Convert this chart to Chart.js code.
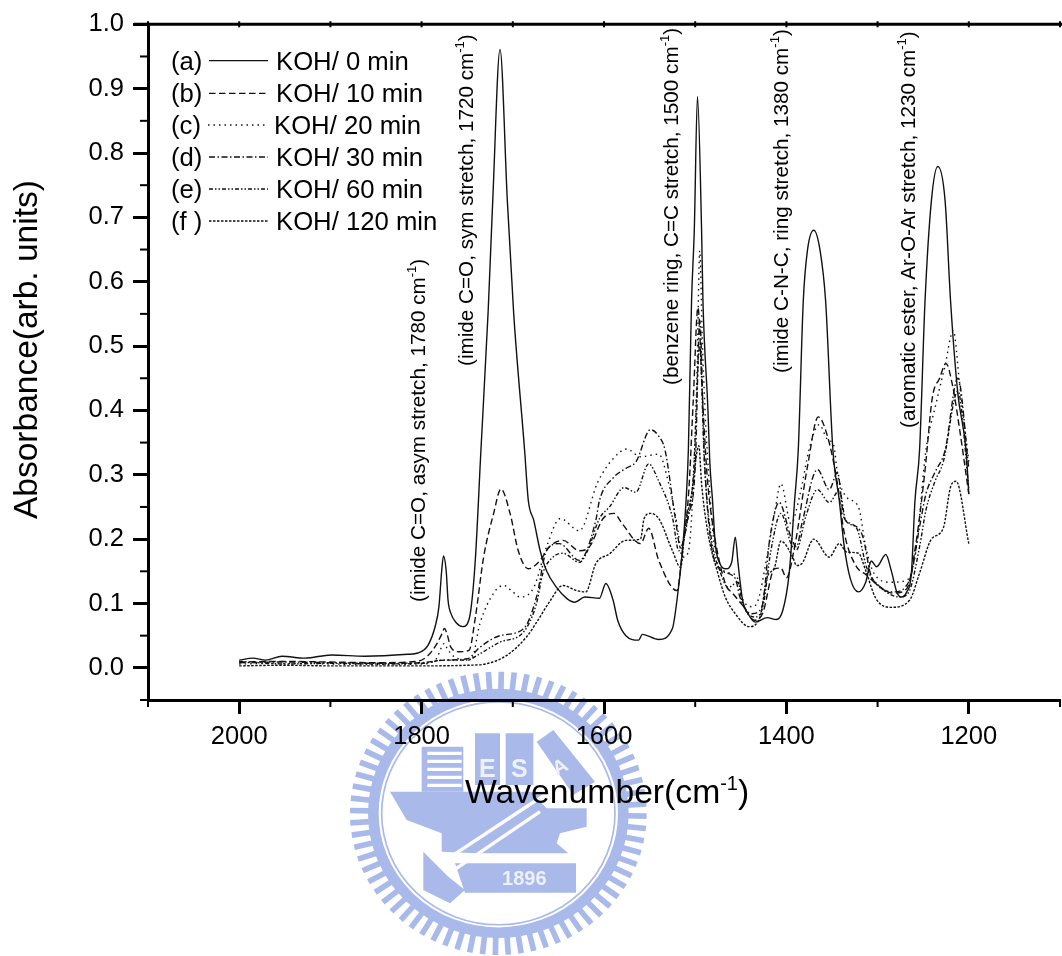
<!DOCTYPE html>
<html>
<head>
    <title>KOH treatment FTIR spectra</title>
    <script src="https://cdn.jsdelivr.net/npm/chart.js"></script>
    <style>
        html, body {
            margin: 0;
            padding: 0;
            background-color: #ffffff;
            overflow: hidden;
        }
        #wrap {
            width: 1062px;
            height: 956px;
            overflow: hidden;
        }
        canvas {
            display: block;
        }
    </style>
</head>
<body>
    <div id="wrap"><canvas id="spectra" width="1068" height="956"></canvas></div>

    <script>
        const wnA = [2000,1985,1971,1953,1928,1899,1862,1815,1804,1793,1785,1781,1778,1776,1773,1771,1768,1762,1755,1750,1746,1741,1735,1727,1722,1714,1706,1699,1687,1683,1677,1670,1663,1652,1641,1632,1621,1605,1598,1590,1585,1576,1562,1558,1540,1525,1520,1514,1510,1507.5,1504,1501,1497.5,1493,1491.5,1486,1484,1481,1478,1473,1466,1460,1456,1453,1448,1442,1434,1421,1411,1404,1397,1391,1387,1381.5,1377,1370,1363,1357,1349,1342,1337,1330,1321,1313,1307,1301,1291,1285,1279,1274,1268,1263,1259,1254,1248,1241,1234,1226,1220,1212,1203,1200];
        const valA = [0.012,0.015,0.012,0.018,0.015,0.020,0.018,0.021,0.023,0.035,0.065,0.095,0.150,0.174,0.150,0.105,0.085,0.070,0.064,0.068,0.090,0.170,0.337,0.555,0.726,0.961,0.726,0.550,0.337,0.260,0.229,0.182,0.151,0.125,0.108,0.102,0.110,0.108,0.131,0.105,0.074,0.050,0.043,0.052,0.044,0.061,0.105,0.182,0.260,0.338,0.570,0.680,0.888,0.680,0.570,0.400,0.320,0.260,0.193,0.162,0.154,0.164,0.203,0.162,0.105,0.084,0.071,0.078,0.075,0.089,0.146,0.260,0.338,0.570,0.648,0.680,0.648,0.570,0.338,0.260,0.193,0.139,0.118,0.133,0.166,0.157,0.176,0.151,0.118,0.110,0.118,0.146,0.260,0.338,0.570,0.726,0.779,0.726,0.570,0.426,0.338,0.270];

        const wnB = [2000,1950,1900,1850,1805,1793,1783,1778,1775,1772,1768,1759,1748,1741,1732,1721,1713,1703,1694,1683,1670,1660,1645,1627,1616,1601,1589,1580,1560,1551,1540,1520,1514,1507,1502,1497,1492,1487,1482,1467,1459,1448,1435,1426,1413,1406,1400,1391,1377,1365,1355,1344,1337,1324,1312,1302,1283,1268,1258,1248,1240,1232,1225,1218,1210,1200];
        const valB = [0.009,0.010,0.009,0.008,0.010,0.019,0.038,0.052,0.061,0.052,0.032,0.025,0.027,0.079,0.172,0.240,0.278,0.240,0.182,0.154,0.167,0.188,0.198,0.182,0.188,0.232,0.240,0.224,0.193,0.217,0.167,0.120,0.182,0.276,0.420,0.560,0.420,0.300,0.234,0.131,0.116,0.097,0.074,0.085,0.154,0.155,0.140,0.188,0.312,0.390,0.360,0.286,0.213,0.159,0.144,0.131,0.116,0.123,0.193,0.307,0.420,0.450,0.473,0.440,0.370,0.270];

        const wnC = [2000,1950,1900,1850,1800,1785,1778,1775,1772,1765,1750,1745,1736,1720,1710,1700,1692,1677,1663,1648,1627,1607,1590,1575,1560,1540,1529,1520,1514,1508,1502,1498,1495,1492,1487,1475,1455,1449,1438,1431,1422,1413,1406,1395,1385,1375,1364,1355,1348,1344,1334,1321,1313,1304,1286,1268,1258,1247,1236,1226,1217,1210,1200];
        const valC = [0.006,0.007,0.006,0.005,0.006,0.012,0.032,0.038,0.030,0.018,0.012,0.014,0.069,0.118,0.128,0.118,0.110,0.125,0.188,0.232,0.213,0.288,0.325,0.340,0.328,0.332,0.286,0.224,0.172,0.178,0.286,0.460,0.648,0.500,0.340,0.159,0.144,0.110,0.095,0.105,0.167,0.240,0.286,0.224,0.270,0.340,0.378,0.355,0.345,0.302,0.265,0.250,0.188,0.147,0.133,0.136,0.182,0.338,0.410,0.470,0.524,0.440,0.320];

        const wnD = [2000,1950,1900,1850,1800,1775,1750,1736,1714,1688,1674,1663,1649,1627,1609,1605,1590,1576,1565,1549,1540,1533,1522,1516,1508,1500,1495,1490,1484,1475,1456,1451,1438,1427,1418,1408,1395,1389,1383,1366,1353,1344,1337,1329,1316,1308,1302,1283,1265,1254,1247,1237,1226,1212,1200];
        const valD = [0.008,0.009,0.008,0.007,0.008,0.012,0.014,0.032,0.050,0.061,0.110,0.182,0.193,0.167,0.229,0.260,0.295,0.310,0.320,0.370,0.360,0.338,0.234,0.187,0.234,0.312,0.540,0.330,0.209,0.156,0.139,0.110,0.084,0.094,0.203,0.257,0.203,0.188,0.224,0.308,0.277,0.304,0.234,0.224,0.203,0.147,0.131,0.118,0.136,0.219,0.270,0.304,0.338,0.450,0.310];

        const wnE = [2000,1950,1900,1850,1800,1775,1750,1736,1714,1688,1674,1667,1656,1645,1627,1618,1605,1594,1578,1565,1551,1540,1525,1518,1509,1502,1495,1490,1482,1473,1464,1453,1448,1435,1426,1417,1406,1395,1389,1379,1366,1353,1342,1335,1323,1312,1299,1275,1265,1254,1247,1237,1228,1212,1200];
        const valE = [0.010,0.006,0.007,0.006,0.007,0.012,0.012,0.022,0.040,0.056,0.100,0.147,0.172,0.178,0.164,0.182,0.232,0.250,0.280,0.273,0.317,0.290,0.234,0.182,0.224,0.300,0.500,0.320,0.198,0.151,0.125,0.133,0.100,0.079,0.094,0.182,0.240,0.193,0.183,0.234,0.277,0.257,0.276,0.229,0.217,0.156,0.128,0.110,0.120,0.188,0.245,0.290,0.320,0.430,0.280];

        const wnF = [2000,1950,1900,1850,1800,1750,1730,1707,1685,1672,1660,1645,1630,1620,1609,1594,1576,1560,1556,1549,1540,1525,1516,1511,1504,1496,1493,1486,1475,1467,1456,1441,1429,1421,1413,1406,1393,1389,1383,1370,1353,1342,1334,1321,1313,1302,1285,1265,1254,1241,1228,1220,1214,1200];
        const valF = [0.003,0.004,0.003,0.003,0.003,0.004,0.006,0.019,0.048,0.075,0.102,0.128,0.120,0.118,0.162,0.177,0.198,0.200,0.232,0.240,0.232,0.182,0.156,0.219,0.270,0.345,0.286,0.209,0.146,0.110,0.084,0.064,0.079,0.141,0.156,0.197,0.172,0.159,0.162,0.200,0.172,0.193,0.180,0.178,0.151,0.108,0.094,0.105,0.147,0.200,0.217,0.281,0.290,0.193];

        const seriesNames = ['KOH/ 0 min', 'KOH/ 10 min', 'KOH/ 20 min', 'KOH/ 30 min', 'KOH/ 60 min', 'KOH/ 120 min'];
        const seriesTags = ['(a)', '(b)', '(c)', '(d)', '(e)', '(f )'];
        const seriesDash = [[], [6.5, 3.5], [1.5, 4], [6, 2.5, 1.5, 2.5], [4, 2, 1.5, 2, 1.5, 2], [2.5, 1.5]];
        const xLabels = [2000, 1800, 1600, 1400, 1200];
        const peakLabels = [
            ['(imide C=O, asym stretch, 1780 cm', 425, 602],
            ['(imide C=O, sym stretch, 1720 cm', 473, 366],
            ['(benzene ring, C=C stretch, 1500 cm', 678, 385],
            ['(imide C-N-C, ring stretch, 1380 cm', 788, 373],
            ['(aromatic ester, Ar-O-Ar stretch, 1230 cm', 915, 428]
        ];

        const fontName = '"Liberation Sans", Arial, sans-serif';

        function points(wn, val) {
            return wn.map((w, i) => ({ x: w, y: val[i] }));
        }

        function drawSeal(c) {
            // school seal behind the plot, in 3x crop coordinates
            const blue = '#a9baea';
            c.save();
            c.translate(340, 670);
            c.scale(1 / 3, 1 / 3);
            c.strokeStyle = blue;
            c.fillStyle = blue;
            const cx = 475, cy = 430, squash = 0.955;
            c.lineWidth = 17;
            for (let i = 0; i < 72; i++) {
                const a = i * Math.PI / 36 + 0.02;
                c.beginPath();
                c.moveTo(cx + 385 * Math.cos(a), cy + 385 * squash * Math.sin(a));
                c.lineTo(cx + 445 * Math.cos(a), cy + 445 * squash * Math.sin(a));
                c.stroke();
            }
            c.lineWidth = 32;
            c.beginPath();
            c.ellipse(cx, cy, 375, 375 * squash, 0, 0, Math.PI * 2);
            c.stroke();
            c.lineWidth = 5;
            c.beginPath();
            c.ellipse(cx, cy, 350, 350 * squash, 0, 0, Math.PI * 2);
            c.stroke();

            const shapes = [
                [[245, 230], [370, 230], [370, 365], [245, 365]],
                [[405, 190], [480, 190], [480, 345], [405, 345]],
                [[497, 190], [580, 190], [580, 345], [497, 345]],
                [[590, 215], [640, 180], [765, 335], [700, 375]],
                [[150, 365], [620, 365], [590, 385], [620, 415], [740, 415], [740, 470], [660, 490], [650, 520], [685, 550], [410, 550], [305, 545], [305, 490], [200, 450]],
                [[345, 580], [708, 580], [708, 668], [375, 668]],
                [[250, 545], [325, 620], [375, 660], [330, 700], [250, 660]]
            ];
            shapes.forEach(s => {
                c.beginPath();
                s.forEach((p, i) => i ? c.lineTo(p[0], p[1]) : c.moveTo(p[0], p[1]));
                c.closePath();
                c.fill();
            });

            c.strokeStyle = '#ffffff';
            c.lineWidth = 10;
            c.beginPath();
            c.moveTo(310, 575); c.lineTo(590, 390);
            c.moveTo(335, 605); c.lineTo(600, 425);
            for (let y = 250; y < 360; y += 24) {
                c.moveTo(262, y); c.lineTo(365, y);
            }
            c.stroke();

            c.fillStyle = '#eef1fb';
            c.font = 'bold 60px ' + fontName;
            c.textAlign = 'center';
            c.fillText('1896', 553, 645);
            c.font = 'bold 75px ' + fontName;
            c.fillText('E', 442, 320);
            c.fillText('S', 538, 320);
            c.save();
            c.translate(660, 290);
            c.rotate(-0.5);
            c.font = 'bold 60px ' + fontName;
            c.fillText('A', 0, 20);
            c.restore();
            c.restore();
        }

        function vText(c, text, x, y, size, sup) {
            // rotated label, sup is the raised part after the main text
            c.save();
            c.translate(x, y);
            c.rotate(-Math.PI / 2);
            c.textAlign = 'left';
            c.textBaseline = 'alphabetic';
            c.font = size + 'px ' + fontName;
            c.fillText(text, 0, 0);
            if (sup) {
                const w = c.measureText(text).width;
                c.font = Math.round(size * 0.62) + 'px ' + fontName;
                c.fillText('-1', w, -size * 0.42);
                const w2 = c.measureText('-1').width;
                c.font = size + 'px ' + fontName;
                c.fillText(')', w + w2, 0);
            }
            c.restore();
        }

        const sealPlugin = {
            id: 'seal',
            beforeDraw(chart) {
                drawSeal(chart.ctx);
            }
        };

        const framePlugin = {
            id: 'frame',
            afterDraw(chart) {
                const c = chart.ctx;
                const xs = chart.scales.x;
                const ys = chart.scales.y;
                const top = chart.chartArea.top;
                const bottom = chart.chartArea.bottom;
                const left = chart.chartArea.left;

                c.save();
                c.strokeStyle = '#000000';
                c.fillStyle = '#000000';

                // top line with its small ticks, minor ticks on both axes
                c.lineWidth = 3;
                c.beginPath();
                c.moveTo(left - 14, top);
                c.lineTo(chart.width, top);
                c.stroke();
                c.lineWidth = 2;
                xs.ticks.forEach(t => {
                    const px = xs.getPixelForValue(t.value);
                    c.beginPath();
                    c.moveTo(px, top - 3);
                    c.lineTo(px, top + 3);
                    if (!xLabels.includes(t.value)) {
                        c.moveTo(px, bottom);
                        c.lineTo(px, bottom + 7);
                    }
                    c.stroke();
                });
                ys.ticks.forEach(t => {
                    if (Math.round(t.value * 100) % 10 !== 0) {
                        const py = ys.getPixelForValue(t.value);
                        c.beginPath();
                        c.moveTo(left - 8, py);
                        c.lineTo(left, py);
                        c.stroke();
                    }
                });

                // legend
                const textY = [70, 102, 134, 166, 198, 230];
                const lineY = [60.7, 93.3, 125, 157, 189, 221];
                const textX = [276, 276, 274, 276, 276, 276];
                const lineX = [209, 209, 208, 209, 209, 209];
                chart.data.datasets.forEach((ds, i) => {
                    c.font = '25.7px ' + fontName;
                    c.textBaseline = 'alphabetic';
                    c.textAlign = 'left';
                    c.fillText(seriesTags[i], 171, textY[i]);
                    c.fillText(ds.label, textX[i], textY[i]);
                    c.save();
                    c.lineWidth = 1.3;
                    c.strokeStyle = ds.borderColor;
                    c.setLineDash(seriesDash[i]);
                    c.beginPath();
                    c.moveTo(lineX[i], lineY[i]);
                    c.lineTo(lineX[i] + 59, lineY[i]);
                    c.stroke();
                    c.restore();
                });

                // peak labels and axis titles
                peakLabels.forEach(p => vText(c, p[0], p[1], p[2], 20.7, true));
                vText(c, 'Absorbance(arb. units)', 36.5, 519, 33.5, false);

                c.textBaseline = 'alphabetic';
                c.textAlign = 'left';
                c.font = '33.7px ' + fontName;
                c.fillText('Wavenumber(cm', 465, 803);
                const w = c.measureText('Wavenumber(cm').width;
                c.font = '20px ' + fontName;
                c.fillText('-1', 465 + w, 790);
                const w2 = c.measureText('-1').width;
                c.font = '33.7px ' + fontName;
                c.fillText(')', 465 + w + w2, 803);
                c.restore();
            }
        };

        const datasets = [
            [wnA, valA], [wnB, valB], [wnC, valC], [wnD, valD], [wnE, valE], [wnF, valF]
        ].map((s, i) => ({
            label: seriesNames[i],
            data: points(s[0], s[1]),
            borderColor: '#111111',
            borderWidth: 1.4,
            borderDash: seriesDash[i],
            pointRadius: 0,
            showLine: true,
            cubicInterpolationMode: 'monotone'
        }));

        new Chart(document.getElementById('spectra').getContext('2d'), {
            type: 'scatter',
            data: { datasets: datasets },
            plugins: [sealPlugin, framePlugin],
            options: {
                responsive: false,
                animation: false,
                layout: { padding: { top: 23 }, autoPadding: false },
                plugins: {
                    legend: { display: false },
                    tooltip: { enabled: false }
                },
                scales: {
                    x: {
                        type: 'linear',
                        reverse: true,
                        min: 1100,
                        max: 2100,
                        afterFit(scale) { scale.height = 256; },
                        border: { display: true, color: '#000000', width: 3 },
                        grid: {
                            drawOnChartArea: false,
                            tickLength: 14,
                            tickWidth: 3,
                            tickColor: ctx => xLabels.includes(ctx.tick.value) ? '#000000' : 'rgba(0,0,0,0)'
                        },
                        ticks: {
                            stepSize: 100,
                            autoSkip: false,
                            maxRotation: 0,
                            padding: 8,
                            color: '#000000',
                            font: { family: fontName, size: 25.5 },
                            callback: v => xLabels.includes(v) ? String(v) : ''
                        }
                    },
                    y: {
                        min: -0.05,
                        max: 1.0,
                        afterFit(scale) { scale.width = 148; },
                        border: { display: true, color: '#000000', width: 3 },
                        grid: {
                            drawOnChartArea: false,
                            tickLength: 15,
                            tickWidth: 3,
                            tickColor: ctx => Math.round(ctx.tick.value * 100) % 10 === 0 ? '#000000' : 'rgba(0,0,0,0)'
                        },
                        ticks: {
                            stepSize: 0.05,
                            autoSkip: false,
                            padding: 9,
                            color: '#000000',
                            font: { family: fontName, size: 25.5 },
                            callback: v => Math.round(v * 100) % 10 === 0 ? v.toFixed(1) : ''
                        }
                    }
                }
            }
        });
    </script>
</body>
</html>
